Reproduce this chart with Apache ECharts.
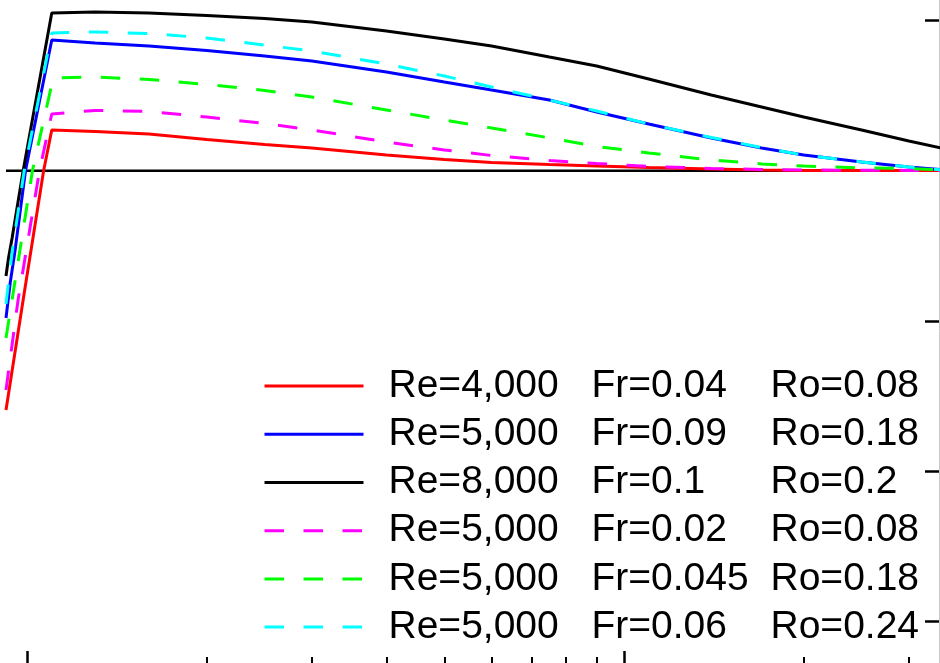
<!DOCTYPE html>
<html>
<head>
<meta charset="utf-8">
<script src="https://cdn.jsdelivr.net/npm/echarts@6/dist/echarts.min.js"></script>
<style>
  html, body { margin: 0; padding: 0; background: #ffffff; }
  #chart { width: 940px; height: 663px; }
</style>
</head>
<body>
<div id="chart"></div>
<script>
// Run parameters shown in the legend
const reynolds = ['4,000', '5,000', '8,000', '5,000', '5,000', '5,000'];
const froude   = ['0.04', '0.09', '0.1', '0.02', '0.045', '0.06'];
const rossby   = ['0.08', '0.18', '0.2', '0.08', '0.18', '0.24'];

// Shared sampling of the decay phase
const decayX = [1.3, 1.6, 2, 2.5, 3, 4, 5, 6, 7.5, 9, 11, 14, 17, 20, 25, 30, 34];

// Re=4,000 Fr=0.04 Ro=0.08
const redX = [0.922, 0.985, 1.066, 1.1].concat(decayX);
const redY = [-1.592, -0.860, 0, 0.271,
  0.261, 0.244, 0.208, 0.174, 0.151, 0.104, 0.075, 0.055, 0.041, 0.031, 0.021, 0.011, 0.005, 0.002, 0.001, 0.001, 0.001];

// Re=5,000 Fr=0.09 Ro=0.18
const blueX = [0.922, 0.937, 0.955, 0.994, 1.1].concat(decayX);
const blueY = [-0.980, -0.747, -0.528, 0, 0.870,
  0.850, 0.830, 0.800, 0.763, 0.730, 0.657, 0.590, 0.537, 0.470, 0.391, 0.311, 0.218, 0.151, 0.104, 0.058, 0.025, 0.008];

// Re=8,000 Fr=0.1 Ro=0.2
const blackX = [0.922, 0.931, 0.944, 0.985, 1.1].concat(decayX);
const blackY = [-0.701, -0.581, -0.448, 0, 1.049,
  1.056, 1.049, 1.033, 1.013, 0.989, 0.929, 0.876, 0.830, 0.756, 0.697, 0.610, 0.504, 0.424, 0.357, 0.271, 0.198, 0.151];

// Re=5,000 Fr=0.02 Ro=0.08
const magentaX = [0.922, 0.966, 1.012, 1.049, 1.1].concat(decayX);
const magentaY = [-1.459, -0.860, -0.375, 0, 0.377,
  0.401, 0.394, 0.357, 0.314, 0.271, 0.191, 0.138, 0.101, 0.068, 0.048, 0.028, 0.015, 0.008, 0.005, 0.003, 0.002, 0.001];

// Re=5,000 Fr=0.045 Ro=0.18
const greenX = [0.922, 0.973, 1.021, 1.106].concat(decayX);
const greenY = [-1.113, -0.528, 0, 0.617,
  0.623, 0.607, 0.574, 0.534, 0.490, 0.404, 0.337, 0.284, 0.218, 0.161, 0.118, 0.071, 0.045, 0.031, 0.018, 0.015, 0.005];

// Re=5,000 Fr=0.06 Ro=0.24
const cyanX = [0.922, 0.944, 0.989, 1.1].concat(decayX);
const cyanY = [-0.887, -0.541, 0, 0.916,
  0.923, 0.913, 0.883, 0.836, 0.796, 0.710, 0.630, 0.557, 0.470, 0.397, 0.311, 0.221, 0.154, 0.104, 0.058, 0.025, 0.005];

// Zero reference line
const zeroX = [0.922, 34];
const zeroY = [0, 0];

// Axis ticks
const xMajorTicks = [1, 10];
const xMinorTicks = [2, 3, 4, 5, 6, 7, 8, 9, 20, 30];
const yTicks = [-3, -2, -1, 0, 1];

const X_MIN = 0.922, X_MAX = 33.7;
const Y_MIN = -3.2755, Y_MAX = 1.1357;

const names = reynolds.map((re, i) => `Re=${re} Fr=${froude[i]} Ro=${rossby[i]}`);
const zip = (xs, ys) => xs.map((x, i) => [x, ys[i]]);

const runs = [
  { x: redX, y: redY, color: '#ff0000', dashed: false },
  { x: blueX, y: blueY, color: '#0000ff', dashed: false },
  { x: blackX, y: blackY, color: '#000000', dashed: false },
  { x: magentaX, y: magentaY, color: '#ff00ff', dashed: true },
  { x: greenX, y: greenY, color: '#00ff00', dashed: true },
  { x: cyanX, y: cyanY, color: '#00ffff', dashed: true }
];

const series = [{
  name: 'zero',
  type: 'line',
  data: zip(zeroX, zeroY),
  symbol: 'none',
  lineStyle: { color: '#000', width: 2.5 },
  silent: true
}].concat(runs.map((r, i) => ({
  name: names[i],
  type: 'line',
  data: zip(r.x, r.y),
  symbol: 'none',
  showSymbol: false,
  color: r.color,
  lineStyle: { color: r.color, width: 3, type: r.dashed ? [19.5, 19.5] : 'solid' }
})));

const baseX = {
  type: 'log', logBase: 10, min: X_MIN, max: X_MAX, position: 'bottom',
  axisLine: { show: false, onZero: false }, axisLabel: { show: false }, splitLine: { show: false }
};

const font = 'Liberation Sans';
const textBase = { fontFamily: font, fontSize: 39, color: '#000', lineHeight: 48.2 };

const chart = echarts.init(document.getElementById('chart'), null, { renderer: 'canvas' });
chart.setOption({
  animation: false,
  backgroundColor: '#ffffff',
  grid: { left: 6, right: 1, top: 0, bottom: 0, containLabel: false },
  xAxis: [
    Object.assign({}, baseX, {
      axisTick: { show: true, inside: true, length: 12, customValues: xMajorTicks,
        lineStyle: { color: '#000', width: 2.5 } }
    }),
    Object.assign({}, baseX, {
      axisTick: { show: true, inside: true, length: 6, customValues: xMinorTicks,
        lineStyle: { color: '#000', width: 2 } }
    })
  ],
  yAxis: {
    type: 'value', position: 'right', min: Y_MIN, max: Y_MAX,
    axisLine: { show: true, onZero: false, lineStyle: { color: '#c8c8c8', width: 1 } },
    axisTick: { show: true, inside: true, length: 14, customValues: yTicks,
      lineStyle: { color: '#000', width: 2.5 } },
    axisLabel: { show: false },
    splitLine: { show: false }
  },
  legend: {
    data: names,
    orient: 'vertical',
    left: 263,
    top: 362,
    padding: 0,
    itemWidth: 99,
    itemHeight: 20,
    itemGap: 0,
    selectedMode: false,
    lineStyle: { width: 3 },
    itemStyle: { opacity: 0 },
    textStyle: Object.assign({}, textBase, {
      rich: {
        s: Object.assign({}, textBase, { width: 20 }),
        a: Object.assign({}, textBase, { width: 203 }),
        b: Object.assign({}, textBase, { width: 179 }),
        c: Object.assign({}, textBase)
      }
    }),
    formatter: (name) => {
      const i = names.indexOf(name);
      return `{s| }{a|Re=${reynolds[i]}}{b|Fr=${froude[i]}}{c|Ro=${rossby[i]}}`;
    }
  },
  series: series
});
</script>
</body>
</html>
